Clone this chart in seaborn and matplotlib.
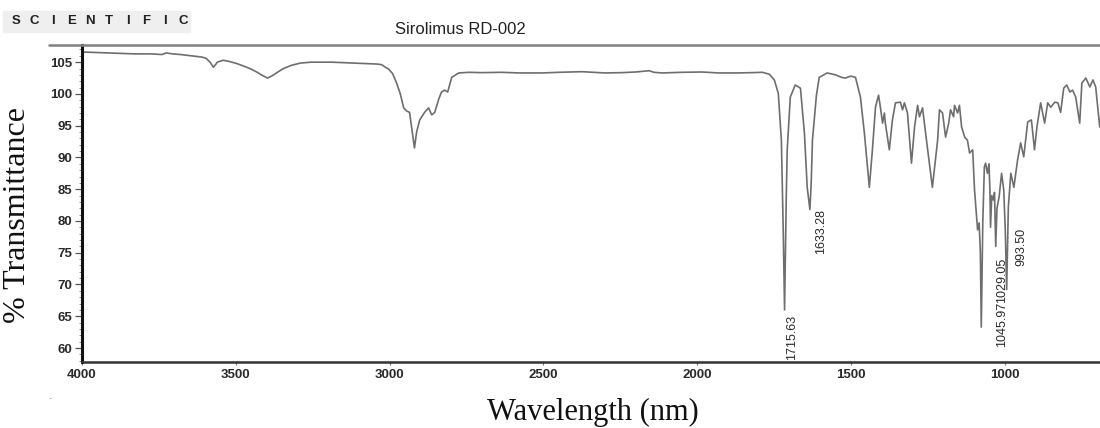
import matplotlib
matplotlib.use("Agg")
import matplotlib.pyplot as plt
from matplotlib.lines import Line2D
from matplotlib.patches import Rectangle
import seaborn as sns
import pandas as pd

# IR spectrum of the sample: wavenumber (cm-1, axis titled as printed) vs % transmittance
wavenumber = [
    4000, 3940, 3873, 3830, 3775, 3740, 3726, 3705, 3680, 3645, 3610, 3596, 3582, 3573, 3566,
    3560, 3541, 3520, 3498, 3470, 3450, 3430, 3417, 3397, 3380, 3368, 3345, 3319, 3290, 3254,
    3189, 3140, 3091, 3040, 3026, 3003, 2990, 2977, 2965, 2954, 2944, 2935, 2926, 2919, 2912,
    2902, 2886, 2873, 2863, 2853, 2840, 2831, 2821, 2811, 2798, 2775, 2743, 2700, 2635, 2580,
    2505, 2450, 2375, 2300, 2244, 2200, 2156, 2140, 2114, 2050, 1984, 1930, 1870, 1820, 1788,
    1765, 1749, 1736, 1726, 1720, 1715.63, 1710, 1707, 1697, 1681, 1664, 1651, 1642, 1633.28,
    1629, 1625, 1612, 1603, 1577, 1550, 1530, 1518, 1500, 1485, 1469, 1456, 1440, 1430, 1420,
    1410, 1404, 1397, 1391, 1388, 1375, 1365, 1355, 1339, 1332, 1326, 1316, 1303, 1293, 1283,
    1277, 1267, 1257, 1235, 1218, 1212, 1202, 1192, 1182, 1176, 1166, 1163, 1153, 1147, 1140,
    1130, 1121, 1114, 1104, 1098, 1088, 1083, 1079, 1076, 1071, 1066, 1062, 1056, 1051, 1048,
    1045.97, 1042, 1037, 1033, 1029.05, 1025, 1018, 1010, 1003, 998, 993.50, 988, 980, 970,
    958, 948, 938, 925, 913, 903, 895, 883, 870, 860, 850, 837, 827, 818, 808, 798, 788, 779,
    769, 756, 749, 736, 723, 713, 704, 691, 687,
]
transmittance = [
    106.6, 106.5, 106.4, 106.3, 106.3, 106.2, 106.45, 106.3, 106.2, 106.0, 105.8, 105.6, 104.9, 104.2, 104.6,
    105.0, 105.3, 105.1, 104.8, 104.3, 103.9, 103.4, 103.0, 102.5, 102.9, 103.3, 104.0, 104.5, 104.85, 105.0,
    105.0, 104.9, 104.8, 104.7, 104.6, 103.9, 103.2, 101.7, 100.0, 97.8, 97.3, 97.1, 94.0, 91.5, 94.0,
    95.9, 97.1, 97.8, 96.7, 97.1, 99.2, 100.3, 100.6, 100.3, 102.6, 103.3, 103.4, 103.35, 103.4, 103.3,
    103.3, 103.4, 103.5, 103.3, 103.35, 103.45, 103.65, 103.4, 103.3, 103.4, 103.45, 103.3, 103.3, 103.35, 103.4,
    103.1, 102.2, 100.1, 92.7, 78.6, 66.0, 84.0, 91.2, 99.5, 101.4, 100.9, 93.8, 85.3, 81.8,
    86.0, 92.7, 99.8, 102.6, 103.3, 103.0, 102.6, 102.5, 102.8, 102.6, 99.5, 93.8, 85.3, 91.2, 97.9,
    99.8, 97.9, 95.4, 97.0, 95.4, 91.2, 95.9, 98.6, 98.7, 97.5, 98.6, 97.0, 89.1, 94.8, 98.2,
    96.4, 97.8, 93.8, 85.3, 92.7, 97.5, 97.0, 93.2, 95.4, 97.5, 96.4, 98.2, 97.0, 98.2, 94.8,
    93.2, 92.7, 90.7, 91.2, 84.9, 78.6, 79.7, 75.0, 63.3, 80.0, 88.5, 89.1, 87.5, 89.0, 85.0,
    79.0, 84.0, 83.3, 84.5, 76.0, 82.0, 83.8, 87.5, 84.9, 78.6, 69.2, 82.2, 87.5, 85.3,
    89.6, 92.3, 90.1, 95.6, 95.9, 91.2, 94.8, 98.6, 95.4, 98.6, 97.9, 98.7, 98.6, 97.1, 100.9, 101.4, 100.3, 100.6,
    99.5, 95.4, 101.7, 102.5, 101.1, 102.2, 101.1, 94.8, 96.4,
]

# Labelled absorption peaks
peak_wn = [1715.63, 1633.28, 1045.97, 1029.05, 993.50]
peak_T = [66.0, 81.8, 79.0, 76.0, 69.2]
# label placement relative to each peak, in pixels (dx, dy)
peak_offsets = [(7, -5), (11, 1), (12, -74), (6, -11), (15, 62)]

x_ticks = [4000, 3500, 3000, 2500, 2000, 1500, 1000]
y_ticks = [60, 65, 70, 75, 80, 85, 90, 95, 100, 105]

df = pd.DataFrame({"wavenumber": wavenumber, "transmittance": transmittance})

sns.set_theme(style="ticks")
plt.rcParams["font.family"] = ["Liberation Sans", "DejaVu Sans"]

W, H = 1100, 428
fig = plt.figure(figsize=(W / 100, H / 100), dpi=100)
ax = fig.add_axes([82 / W, 1 - 362 / H, 1 - 82 / W, (362 - 45) / H])

line_col = "#6e6e6e"
sns.lineplot(data=df, x="wavenumber", y="transmittance", sort=False, estimator=None,
             color=line_col, linewidth=1.2, ax=ax)

ax.set_xlim(4000, 690)
ax.set_ylim(57.8, 107.7)
ax.set_xticks(x_ticks)
ax.set_xticklabels([str(t) for t in x_ticks])
ax.set_yticks(y_ticks)
ax.set_yticklabels([str(t) for t in y_ticks])
ax.set_yticks(range(58, 108), minor=True)
ax.set_xlabel("")
ax.set_ylabel("")

for lbl in ax.get_xticklabels() + ax.get_yticklabels():
    lbl.set_fontweight("bold")
    lbl.set_fontsize(9.5)
    lbl.set_color("#2a2a2a")

ax.tick_params(axis="y", which="major", length=5, width=0.9, color="#555", pad=2)
ax.tick_params(axis="y", which="minor", length=2.5, width=0.6, color="#777")
ax.tick_params(axis="x", which="major", length=2, width=0.8, color="#777", pad=3)

for side in ("top", "right"):
    ax.spines[side].set_visible(False)
ax.spines["left"].set_linewidth(2.2)
ax.spines["left"].set_color("#111")
ax.spines["bottom"].set_linewidth(1.8)
ax.spines["bottom"].set_color("#333")

# peak labels
for wn, t, (dx, dy) in zip(peak_wn, peak_T, peak_offsets):
    ax.annotate(f"{wn:.2f}", xy=(wn, t), xytext=(dx, dy), textcoords="offset pixels",
                rotation=90, ha="center", va="top", fontsize=9, color="#2a2a2a")

# header rule across the top
fig.add_artist(Line2D([49 / W, 1.0], [1 - 45 / H] * 2, color="#808080", linewidth=1.8))

# brand block
fig.add_artist(Rectangle((3 / W, 1 - 32 / H), 187 / W, 21 / H, color="#efefef", zorder=0))
for i, ch in enumerate("SCIENTIFIC"):
    fig.text((16 + i * 18.6) / W, 1 - 21 / H, ch, ha="center", va="center",
             fontsize=9.5, fontweight="bold", color="#222")

fig.text(460 / W, 1 - 30 / H, "Sirolimus RD-002", ha="center", va="center",
         fontsize=12, color="#222")

fig.text(50 / W, 1 - 398 / H, "-", ha="center", va="center", fontsize=7, color="#aaa")

fig.text(593 / W, 1 - 412 / H, "Wavelength (nm)", ha="center", va="center",
         fontsize=22, family=["Liberation Serif", "DejaVu Serif"], color="#111")
fig.text(18 / W, 1 - 215 / H, "% Transmittance", ha="center", va="center", rotation=90,
         fontsize=23, family=["Liberation Serif", "DejaVu Serif"], color="#111")

fig.savefig("out.png", dpi=100, facecolor="white")
